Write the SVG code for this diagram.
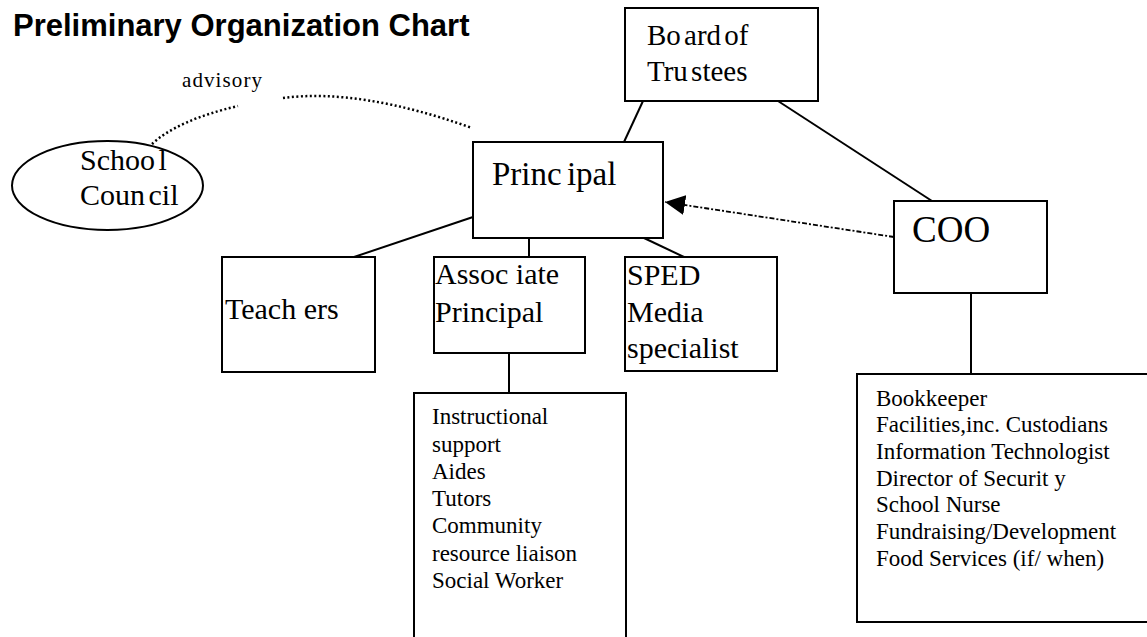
<svg xmlns="http://www.w3.org/2000/svg" width="1147" height="637" viewBox="0 0 1147 637">
<style>
.box{fill:#fff;stroke:#000;stroke-width:2}
.ln{fill:none;stroke:#000;stroke-width:2}
.dot{fill:none;stroke:#000;stroke-width:2.5;stroke-dasharray:2 2.5}
.lbl{font-family:"Liberation Serif","Times New Roman",serif;fill:#000}
.big{font-size:30px}
.lst{font-size:23px}
</style>
<defs>
<marker id="ah" markerUnits="userSpaceOnUse" markerWidth="20" markerHeight="20" refX="20" refY="10" orient="auto">
<path d="M0,0 L20,10 L0,20 z" fill="#000"/>
</marker>
</defs>
<rect width="1147" height="637" fill="#fff"/>
<text x="13" y="36" font-family="'Liberation Sans',Arial,sans-serif" font-weight="bold" font-size="31" fill="#000">Preliminary Organization Chart</text>

<g id="connectors">
<line class="ln" x1="643" y1="101" x2="624" y2="142"/>
<line class="ln" x1="778" y1="101" x2="932" y2="201"/>
<line class="ln" x1="473" y1="217" x2="354" y2="257"/>
<line class="ln" x1="529" y1="238" x2="529" y2="257"/>
<line class="ln" x1="644" y1="238" x2="684" y2="257"/>
<line class="ln" x1="509" y1="353" x2="509" y2="393"/>
<line class="ln" x1="971" y1="293" x2="971" y2="374"/>
<path d="M894,237 L665,202" fill="none" stroke="#000" stroke-width="1.8" stroke-dasharray="5 2 2 2" marker-end="url(#ah)"/>
<path class="dot" d="M152,144 Q178,120 238,106"/>
<path class="dot" d="M283,98 Q360,88 472,128"/>
<text class="lbl" x="182" y="87" font-size="21" textLength="80" lengthAdjust="spacing">advisory</text>
</g>

<g id="school-council">
<ellipse cx="107.5" cy="185.5" rx="95.5" ry="44.5" class="box"/>
<text class="lbl big" x="80" y="170" word-spacing="-4">Schoo l</text>
<text class="lbl big" x="80" y="205" word-spacing="-4">Coun cil</text>
</g>

<g id="board">
<rect class="box" x="625" y="8" width="193" height="93"/>
<text class="lbl" x="647" y="45" font-size="29" word-spacing="-4">Bo ard of</text>
<text class="lbl" x="647" y="81" font-size="29" word-spacing="-4">Tru stees</text>
</g>

<g id="principal">
<rect class="box" x="473" y="142" width="190" height="96"/>
<text class="lbl" x="492" y="185" font-size="33" word-spacing="-3">Princ ipal</text>
</g>

<g id="coo">
<rect class="box" x="894" y="201" width="153" height="92"/>
<text class="lbl" x="912" y="242" font-size="37">COO</text>
</g>

<g id="teachers">
<rect class="box" x="222" y="257" width="153" height="115"/>
<text class="lbl big" x="225" y="319">Teach ers</text>
</g>

<g id="associate-principal">
<rect class="box" x="434" y="257" width="151" height="96"/>
<text class="lbl big" x="435" y="284">Assoc iate</text>
<text class="lbl big" x="435" y="322">Principal</text>
</g>

<g id="sped">
<rect class="box" x="625" y="257" width="152" height="114"/>
<text class="lbl big" x="627" y="285">SPED</text>
<text class="lbl big" x="627" y="322">Media</text>
<text class="lbl big" x="627" y="358">specialist</text>
</g>

<g id="instructional-support">
<rect class="box" x="414" y="393" width="212" height="260"/>
<text class="lbl lst" x="432" y="424">Instructional</text>
<text class="lbl lst" x="432" y="452">support</text>
<text class="lbl lst" x="432" y="479">Aides</text>
<text class="lbl lst" x="432" y="506">Tutors</text>
<text class="lbl lst" x="432" y="533">Community</text>
<text class="lbl lst" x="432" y="561">resource liaison</text>
<text class="lbl lst" x="432" y="588">Social Worker</text>
</g>

<g id="operations-staff">
<rect class="box" x="857" y="374" width="300" height="248"/>
<text class="lbl lst" x="876" y="406">Bookkeeper</text>
<text class="lbl lst" x="876" y="432">Facilities,inc. Custodians</text>
<text class="lbl lst" x="876" y="459">Information Technologist</text>
<text class="lbl lst" x="876" y="486">Director of Securit y</text>
<text class="lbl lst" x="876" y="512">School Nurse</text>
<text class="lbl lst" x="876" y="539">Fundraising/Development</text>
<text class="lbl lst" x="876" y="566">Food Services (if/ when)</text>
</g>
</svg>
